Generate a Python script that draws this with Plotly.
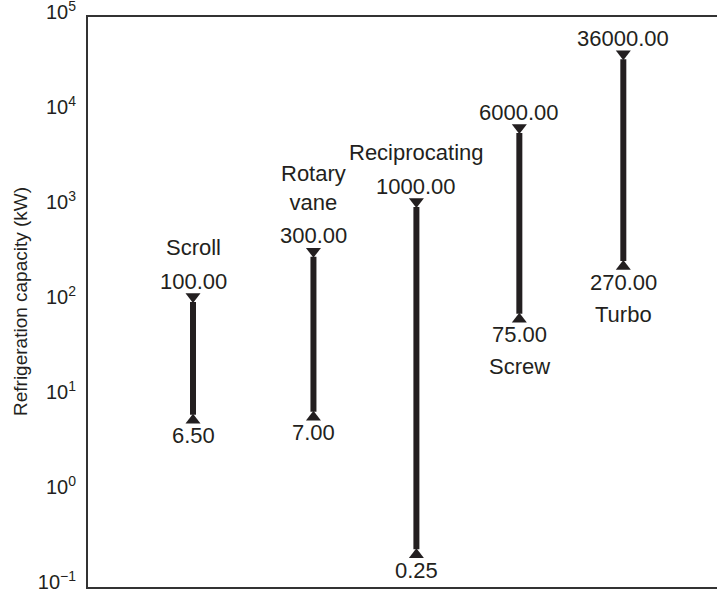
import math
import plotly.graph_objects as go

# ---- data ----
categories = ["Scroll", "Rotary<br>vane", "Reciprocating", "Screw", "Turbo"]
cap_min = [6.50, 7.00, 0.25, 75.00, 270.00]
cap_max = [100.00, 300.00, 1000.00, 6000.00, 36000.00]
tick_vals = [0.1, 1, 10, 100, 1000, 10000, 100000]
tick_text = ["10<sup>\u22121</sup>", "10<sup>0</sup>", "10<sup>1</sup>", "10<sup>2</sup>",
             "10<sup>3</sup>", "10<sup>4</sup>", "10<sup>5</sup>"]

# ---- layout / style ----
x_pos = [1.0, 2.17, 3.17, 4.17, 5.18]
name_side = ["top", "top", "top", "bottom", "bottom"]
W, H = 717, 592
ML, MR, MT, MB = 88, 0, 17, 5
plot_h = H - MT - MB
ylog_range = [-1.0008, 5.0008]
px_per_dec = plot_h / (ylog_range[1] - ylog_range[0])
ink = "#231f20"
font_family = "Liberation Sans, Arial, Helvetica, sans-serif"
fs = 22
fs_title = 19
fs_tick = 20
tri_size = 13
tri_shift_px = 5.5  # so the triangle tip sits at the value

fig = go.Figure()

for i in range(len(categories)):
    x = x_pos[i]
    fig.add_trace(go.Scatter(
        x=[x, x], y=[cap_min[i], cap_max[i]], mode="lines",
        line=dict(color=ink, width=6), hoverinfo="skip", showlegend=False))
    up = 10 ** (tri_shift_px / px_per_dec)
    fig.add_trace(go.Scatter(
        x=[x], y=[cap_max[i] * up], mode="markers",
        marker=dict(symbol="triangle-down", size=tri_size, color=ink, line=dict(width=0)),
        hoverinfo="skip", showlegend=False))
    fig.add_trace(go.Scatter(
        x=[x], y=[cap_min[i] / up], mode="markers",
        marker=dict(symbol="triangle-up", size=tri_size, color=ink, line=dict(width=0)),
        hoverinfo="skip", showlegend=False))

annotations = []
for i in range(len(categories)):
    x = x_pos[i]
    annotations.append(dict(x=x, y=math.log10(cap_max[i]), text=f"{cap_max[i]:.2f}",
                            showarrow=False, yanchor="middle", yshift=21,
                            font=dict(size=fs, color=ink, family=font_family)))
    annotations.append(dict(x=x, y=math.log10(cap_min[i]), text=f"{cap_min[i]:.2f}",
                            showarrow=False, yanchor="middle", yshift=-21,
                            font=dict(size=fs, color=ink, family=font_family)))
    if name_side[i] == "top":
        annotations.append(dict(x=x, y=math.log10(cap_max[i]), text=categories[i],
                                showarrow=False, yanchor="bottom", yshift=40,
                                font=dict(size=fs, color=ink, family=font_family)))
    else:
        annotations.append(dict(x=x, y=math.log10(cap_min[i]), text=categories[i],
                                showarrow=False, yanchor="middle", yshift=-53,
                                font=dict(size=fs, color=ink, family=font_family)))

annotations.append(dict(xref="paper", yref="paper", x=(20 - ML) / (W - ML - MR), y=0.5,
                        text="Refrigeration capacity (kW)", textangle=-90, showarrow=False,
                        xanchor="center", yanchor="middle",
                        font=dict(size=fs_title, color=ink, family=font_family)))

fig.update_layout(
    width=W, height=H,
    margin=dict(l=ML, r=MR, t=MT, b=MB, autoexpand=False),
    paper_bgcolor="white", plot_bgcolor="white",
    showlegend=False,
    annotations=annotations,
    font=dict(family=font_family, size=fs, color=ink),
    xaxis=dict(range=[-0.02, 6.09], showgrid=False, zeroline=False, showticklabels=False,
               ticks="", showline=True, mirror=True, linecolor="#333333", linewidth=2,
               fixedrange=True, automargin=False),
    yaxis=dict(type="log", range=ylog_range, showgrid=False, zeroline=False,
               tickvals=tick_vals, ticktext=tick_text, ticks="", ticklabelstandoff=6,
               ticklabelshift=-5,
               ticklabeloverflow="allow", automargin=False,
               showline=True, mirror=False, linecolor="#333333", linewidth=2,
               tickfont=dict(size=fs_tick, color=ink, family=font_family), fixedrange=True),
)

fig.write_html("out.html", config={"displayModeBar": False},
               post_script="document.body.style.margin='0';document.body.style.padding='0';")
